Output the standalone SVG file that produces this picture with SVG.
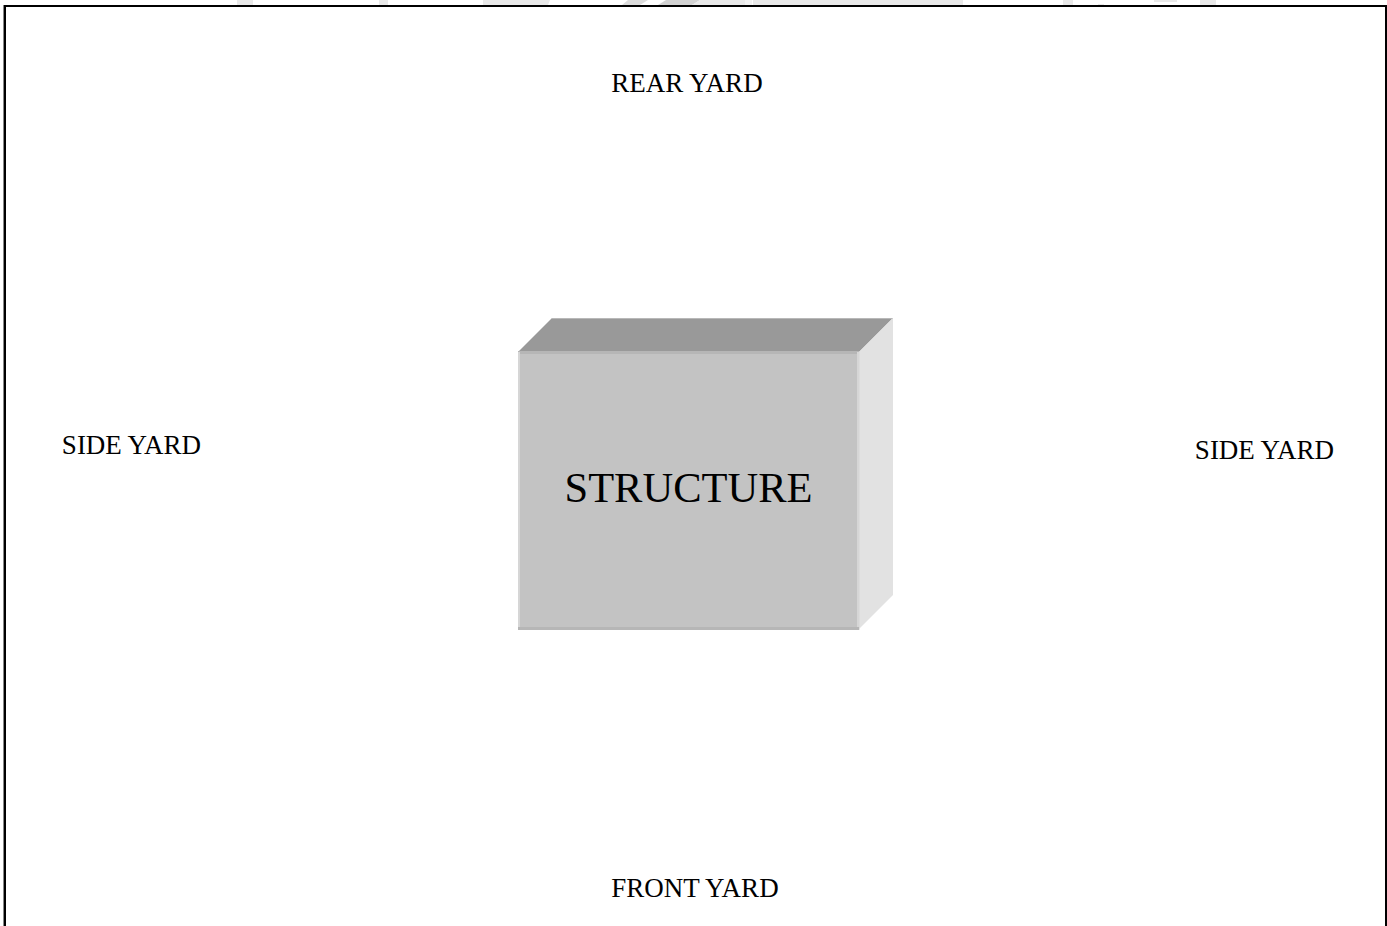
<svg xmlns="http://www.w3.org/2000/svg" width="1387" height="926" viewBox="0 0 1387 926">
<style>
.t{font-family:"Liberation Serif","Times New Roman",serif;font-size:27px;fill:#000}
.w{fill:#e9e9e9}
</style>
<rect width="1387" height="926" fill="#fff"/>
<g id="watermark">
<rect class="w" x="237" y="0" width="16" height="5"/>
<rect class="w" x="379" y="0" width="9" height="5"/>
<polygon class="w" points="483,0 550,0 548,5 483,5"/>
<polygon points="622,5 628,0 648,0 640,5" fill="#dcdcdc"/>
<polygon points="658,5 666,0 700,0 692,5" fill="#d2d2d2"/>
<polygon points="692,5 700,0 745,0 745,5" class="w"/>
<rect x="745" y="0" width="7" height="5" fill="#f2f2f2"/>
<rect class="w" x="753" y="0" width="210" height="5"/>
<rect class="w" x="1063" y="0" width="10" height="5"/>
<rect class="w" x="1098" y="4" width="6" height="1"/>
<rect class="w" x="1154" y="0" width="23" height="2"/>
<rect class="w" x="1200" y="0" width="16" height="5"/>
</g>
<g id="frame">
<path d="M5 926V6H1386V926" fill="none" stroke="#000" stroke-width="2"/>
<rect x="3" y="5" width="1" height="921" fill="#888"/>
</g>
<g id="structure">
<polygon points="518,352 552,318 893,318 859,352" fill="#999"/>
<rect x="552" y="318" width="341" height="1" fill="#b8b8b8"/>
<polygon points="859,352 893,318 893,595 859,629" fill="#e2e2e2"/>
<rect x="518" y="352" width="341" height="278" fill="#c3c3c3"/>
<rect x="518" y="351" width="341" height="3" fill="#b6b6b6"/>
<rect x="518" y="352" width="2" height="278" fill="#d6d6d6"/>
<rect x="857" y="352" width="2.500" height="278" fill="#d6d6d6"/>
<rect x="518" y="627" width="341" height="3" fill="#b6b6b6"/>
<text class="t" x="688.500" y="502" text-anchor="middle" style="font-size:42.500px">STRUCTURE</text>
</g>
<text id="rear-yard" class="t" x="687" y="92" text-anchor="middle">REAR YARD</text>
<text id="side-yard-left" class="t" x="131.500" y="454" text-anchor="middle">SIDE YARD</text>
<text id="side-yard-right" class="t" x="1264.500" y="459" text-anchor="middle">SIDE YARD</text>
<text id="front-yard" class="t" x="695" y="897" text-anchor="middle">FRONT YARD</text>
</svg>
